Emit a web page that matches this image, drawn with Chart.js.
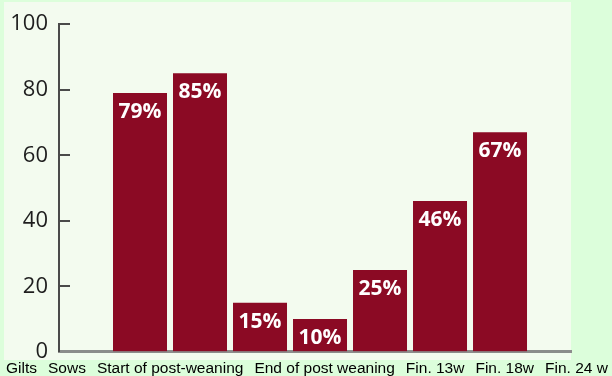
<!DOCTYPE html>
<html>
<head>
<meta charset="utf-8">
<script src="https://cdn.jsdelivr.net/npm/chart.js@4.4.0/dist/chart.umd.min.js"></script>
<style>
	html, body { margin: 0; padding: 0; }
	body { width: 612px; height: 376px; background: #dcfedb; position: relative; overflow: hidden; }
	#panel { position: absolute; left: 4px; top: 2px; width: 567px; height: 358px; background: #f3fbef; }
	#chartBox { position: absolute; left: 0; top: 0; width: 612px; height: 376px; }
	#labels { position: absolute; left: 6px; top: 360px; display: flex; gap: 11px; font-family: "Liberation Sans", Arial, sans-serif; font-size: 15.5px; line-height: 16px; color: #000; white-space: nowrap; }
</style>
</head>
<body>
<div id="panel"></div>
<div id="chartBox"><canvas id="myChart" width="612" height="376"></canvas></div>
<div id="labels"></div>
<script>
// data
const categories = ['Gilts', 'Sows', 'Start of post-weaning', 'End of post weaning', 'Fin. 13w', 'Fin. 18w', 'Fin. 24 w'];
const values = [79, 85, 15, 10, 25, 46, 67];
const yTicks = [0, 20, 40, 60, 80, 100];

// category row under the chart
window.addEventListener("load", function() {
	let row = document.querySelector("#labels");
	categories.forEach(c => {
		let span = document.createElement('span');
		span.appendChild(document.createTextNode(c));
		row.appendChild(span);
	});
})

// percent text inside each bar
const barLabels = {
	id: 'barLabels',
	afterDatasetsDraw(chart) {
		const ctx = chart.ctx;
		const meta = chart.getDatasetMeta(0);
		ctx.save();
		ctx.fillStyle = '#ffffff';
		ctx.font = 'bold 21px "Open Sans"';
		ctx.textAlign = 'center';
		ctx.textBaseline = 'alphabetic';
		meta.data.forEach((bar, i) => {
			ctx.fillText(values[i] + '%', bar.x, bar.y + 25);
		});
		ctx.restore();
	}
};

// y ticks point inward
const innerTicks = {
	id: 'innerTicks',
	afterDraw(chart) {
		const ctx = chart.ctx;
		const y = chart.scales.y;
		const left = chart.chartArea.left;
		ctx.save();
		ctx.strokeStyle = '#4a4a4a';
		ctx.lineWidth = 2;
		y.ticks.forEach(t => {
			if (t.value === 0) return;
			const py = Math.round(y.getPixelForValue(t.value));
			ctx.beginPath();
			ctx.moveTo(left, py);
			ctx.lineTo(left + 11, py);
			ctx.stroke();
		});
		ctx.restore();
	}
};

window.addEventListener("load", function() {

	let data = {
		datasets: [
			{
				backgroundColor: '#8b0a24',
				borderWidth: 0,
				barPercentage: 0.9,
				categoryPercentage: 1.0,
				data: values.map((v, i) => ({ x: i, y: v }))
			}
		]
	};

	let options = {
		responsive: false,
		animation: false,
		devicePixelRatio: 1,
		layout: { padding: { left: 0, right: 41, top: 23, bottom: 0 } },
		plugins: {
			legend: { display: false },
			tooltip: { enabled: false }
		},
		scales: {
			x: {
				type: 'linear',
				min: -1.35,
				max: 7.183,
				offset: false,
				ticks: { display: false },
				grid: { drawOnChartArea: false, drawTicks: false },
				border: { display: true, color: '#8c8c8c', width: 3 },
				afterFit(s) { s.height = 21; }
			},
			y: {
				min: 0,
				max: 100,
				afterBuildTicks(s) { s.ticks = yTicks.map(v => ({ value: v })); },
				ticks: { font: { family: 'Open Sans', size: 22 }, color: '#1e1e1e', padding: 11 },
				grid: { drawOnChartArea: false, drawTicks: false },
				border: { color: '#4a4a4a', width: 2 },
				afterFit(s) { s.width = 59; }
			}
		}
	};

	const ctx = document.getElementById('myChart').getContext('2d');

	let myChart = new Chart(ctx, {
		type: 'bar',
		data: data,
		options: options,
		plugins: [barLabels, innerTicks]
	});
})
</script>
</body>
</html>
